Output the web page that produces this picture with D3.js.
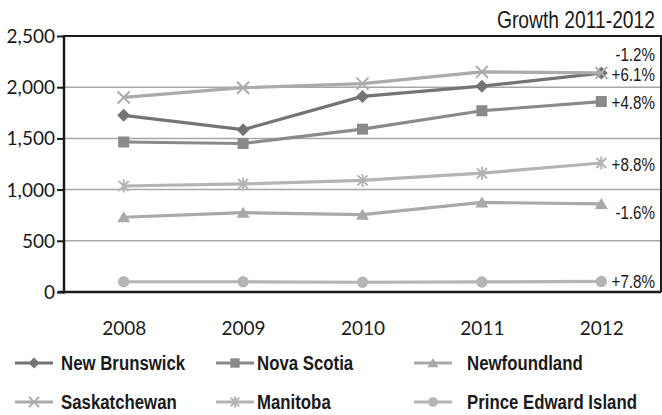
<!DOCTYPE html>
<html>
<head>
<meta charset="utf-8">
<script src="https://cdn.jsdelivr.net/npm/d3@7"></script>
<style>
  html, body { margin: 0; padding: 0; background: #fff; }
  svg { display: block; }
  .axis-label { font-family: Lato, "Open Sans", sans-serif; font-size: 19px; fill: #1a1a1a; }
  .narrow { font-family: "Liberation Sans", Arial, sans-serif; fill: #1a1a1a; }
</style>
</head>
<body>
<svg id="chart" width="662" height="415"></svg>
<script>
// ---------------- data ----------------
const years = ["2008", "2009", "2010", "2011", "2012"];
const yTicks = [0, 500, 1000, 1500, 2000, 2500];

const newBrunswick = [1725, 1585, 1910, 2010, 2138];
const novaScotia   = [1465, 1450, 1590, 1770, 1860];
const newfoundland = [730, 775, 755, 875, 860];
const saskatchewan = [1900, 1995, 2035, 2150, 2140];
const manitoba     = [1035, 1055, 1090, 1160, 1260];
const princeEdward = [100, 100, 95, 98, 103];

const seriesNames = ["New Brunswick", "Nova Scotia", "Newfoundland", "Saskatchewan", "Manitoba", "Prince Edward Island"];
const growthLabels = ["+6.1%", "+4.8%", "-1.6%", "-1.2%", "+8.8%", "+7.8%"];
const title = "Growth 2011-2012";

// ---------------- layout / style ----------------
const W = 662, H = 415;
const plot = { left: 64, right: 661, top: 36, bottom: 292 };
const colors = ["#747474", "#8a8a8a", "#a9a9a9", "#ababab", "#b4b4b4", "#b5b5b5"];
const markers = ["diamond", "square", "triangle", "x", "star", "circle"];
const NARROW = 0.82; // horizontal squeeze to emulate a condensed face
// vertical nudge of growth labels relative to the series' last point
const labelDy = [1, 1, 8, -19, 1, 0];

const series = [newBrunswick, novaScotia, newfoundland, saskatchewan, manitoba, princeEdward]
  .map((vals, i) => ({ name: seriesNames[i], values: vals, color: colors[i], marker: markers[i], growth: growthLabels[i], dy: labelDy[i] }));

const svg = d3.select("#chart");

const x = d3.scalePoint().domain(years).range([plot.left, plot.right]).padding(0.5);
const y = d3.scaleLinear().domain([0, 2500]).range([plot.bottom, plot.top]);

// gridlines
svg.append("g").selectAll("line")
  .data(yTicks.filter(t => t > 0 && t < 2500))
  .join("line")
  .attr("x1", plot.left).attr("x2", plot.right)
  .attr("y1", d => y(d)).attr("y2", d => y(d))
  .attr("stroke", "#a6a6a6").attr("stroke-width", 1.5);

// frame top / right
svg.append("path")
  .attr("d", `M${plot.left},${plot.top}H${plot.right}V${plot.bottom}`)
  .attr("fill", "none").attr("stroke", "#1a1a1a").attr("stroke-width", 2);

// y axis
const yAxis = d3.axisLeft(y).tickValues(yTicks).tickSize(7).tickPadding(2)
  .tickFormat(d3.format(","));
const gy = svg.append("g").attr("transform", `translate(${plot.left},0)`).call(yAxis);
gy.select(".domain").remove();
gy.selectAll(".tick line").attr("stroke", "#1a1a1a").attr("stroke-width", 2);
gy.selectAll(".tick text").attr("class", "axis-label").attr("dy", "0.34em").attr("fill", null);
svg.append("line")
  .attr("x1", plot.left).attr("x2", plot.left)
  .attr("y1", plot.top - 1).attr("y2", plot.bottom + 1.5)
  .attr("stroke", "#1a1a1a").attr("stroke-width", 2.5);

// x axis
const xAxis = d3.axisBottom(x).tickSize(0).tickPadding(0);
const gx = svg.append("g").attr("transform", `translate(0,${plot.bottom})`).call(xAxis);
gx.select(".domain").remove();
gx.selectAll(".tick text").attr("class", "axis-label").attr("y", 43).attr("dy", null).attr("fill", null);
svg.append("line")
  .attr("x1", plot.left - 6).attr("x2", plot.right)
  .attr("y1", plot.bottom).attr("y2", plot.bottom)
  .attr("stroke", "#1a1a1a").attr("stroke-width", 2.5);

// marker drawing
function drawMarker(g, type, color, scale = 1) {
  const s = scale;
  switch (type) {
    case "diamond":
      g.append("path").attr("d", `M0,${-6.5*s}L${6.5*s},0L0,${6.5*s}L${-6.5*s},0Z`).attr("fill", color);
      break;
    case "square":
      g.append("rect").attr("x", -5.5*s).attr("y", -5.5*s).attr("width", 11*s).attr("height", 11*s).attr("fill", color);
      break;
    case "triangle":
      g.append("path").attr("d", `M0,${-6*s}L${6.5*s},${5*s}L${-6.5*s},${5*s}Z`).attr("fill", color);
      break;
    case "x":
      g.append("path").attr("d", `M${-6*s},${-6*s}L${6*s},${6*s}M${-6*s},${6*s}L${6*s},${-6*s}`)
        .attr("stroke", color).attr("stroke-width", 2).attr("fill", "none");
      break;
    case "star":
      g.append("path").attr("d", `M${-5*s},${-5*s}L${5*s},${5*s}M${-5*s},${5*s}L${5*s},${-5*s}M0,${-6.5*s}L0,${6.5*s}`)
        .attr("stroke", color).attr("stroke-width", 2).attr("fill", "none");
      break;
    case "circle":
      g.append("circle").attr("r", 5.7*s).attr("fill", color);
      break;
  }
}

// narrow text helper: text positioned at (tx,ty) with horizontal squeeze
function narrowText(parent, tx, ty, str, size, opts = {}) {
  const g = parent.append("g").attr("transform", `translate(${tx},${ty}) scale(${NARROW},1)`);
  const t = g.append("text").attr("class", "narrow")
    .attr("x", 0).attr("y", 0)
    .attr("font-size", size)
    .attr("text-anchor", opts.anchor || "start")
    .text(str);
  if (opts.weight) t.attr("font-weight", opts.weight);
  if (opts.dy) t.attr("dy", opts.dy);
  return g;
}

const line = d3.line().x((d, i) => x(years[i])).y(d => y(d));

const sg = svg.append("g").selectAll("g").data(series).join("g");
sg.append("path")
  .attr("d", d => line(d.values))
  .attr("fill", "none")
  .attr("stroke", d => d.color)
  .attr("stroke-width", 3.2)
  .attr("stroke-linejoin", "round");
sg.each(function(d) {
  const g = d3.select(this);
  d.values.forEach((v, i) => {
    const mg = g.append("g").attr("transform", `translate(${x(years[i])},${y(v)})`);
    drawMarker(mg, d.marker, d.color);
  });
});

// growth labels
const glG = svg.append("g");
series.forEach(d => {
  narrowText(glG, 655, y(d.values[d.values.length - 1]) + d.dy, d.growth, 18.5, { anchor: "end", dy: "0.36em" });
});

// title
narrowText(svg, 655, 28, title, 23.5, { anchor: "end" });

// legend
const legCols = [{ lx: 15, tx: 61 }, { lx: 216, tx: 257 }, { lx: 414, tx: 467 }];
const legRows = [363, 402];
const lg = svg.append("g").selectAll("g").data(series).join("g")
  .attr("transform", (d, i) => `translate(${legCols[i % 3].lx},${legRows[Math.floor(i / 3)]})`);
lg.append("line").attr("x1", 0).attr("x2", 38).attr("y1", 0).attr("y2", 0)
  .attr("stroke", d => d.color).attr("stroke-width", 3);
lg.each(function(d, i) {
  const sel = d3.select(this);
  const mg = sel.append("g").attr("transform", "translate(19,0)");
  drawMarker(mg, d.marker, d.color, 0.85);
  narrowText(sel, legCols[i % 3].tx - legCols[i % 3].lx, 0, d.name, 20.5, { weight: "bold", dy: "0.36em" });
});
</script>
</body>
</html>
